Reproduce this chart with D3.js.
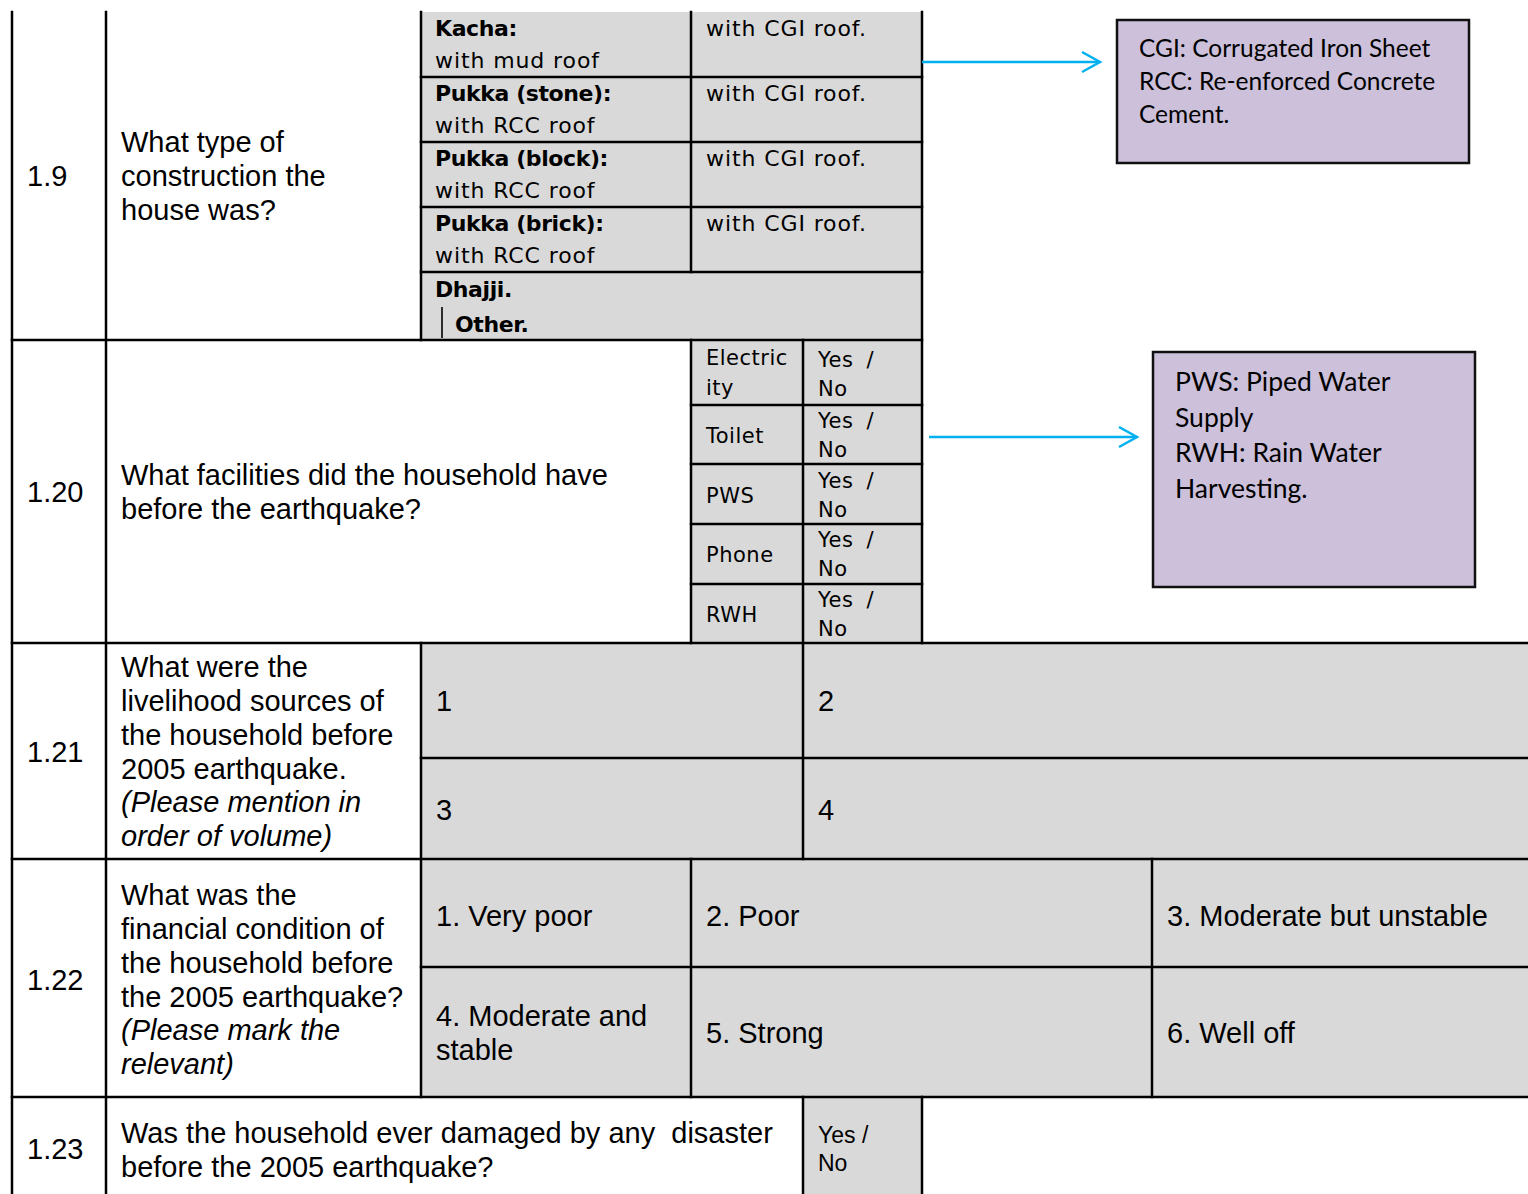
<!DOCTYPE html>
<html><head><meta charset="utf-8">
<script src="https://cdn.jsdelivr.net/npm/d3@7"></script>
<style>body{margin:0;background:#fff}svg{display:block}text{white-space:pre}</style>
</head><body>
<script>
// ---------- DATA ----------
const questionIds = ["1.9", "1.20", "1.21", "1.22", "1.23"];
const questionLines = [
  ["What type of", "construction the", "house was?"],
  ["What facilities did the household have", "before the earthquake?"],
  ["What were the", "livelihood sources of", "the household before", "2005 earthquake."],
  ["What was the", "financial condition of", "the household before", "the 2005 earthquake?"],
  ["Was the household ever damaged by any  disaster", "before the 2005 earthquake?"]
];
const questionNotes = [[], [], ["(Please mention in", "order of volume)"], ["(Please mark the", "relevant)"], []];
const constructionTypes = ["Kacha:", "Pukka (stone):", "Pukka (block):", "Pukka (brick):"];
const roofFirst = ["with mud roof", "with RCC roof", "with RCC roof", "with RCC roof"];
const roofSecond = ["with CGI roof.", "with CGI roof.", "with CGI roof.", "with CGI roof."];
const otherTypes = ["Dhajji.", "Other."];
const facilities = [["Electric", "ity"], ["Toilet"], ["PWS"], ["Phone"], ["RWH"]];
const yesNo = ["Yes /", "No"];
const livelihoodSlots = ["1", "2", "3", "4"];
const financialOptions = [["1. Very poor"], ["2. Poor"], ["3. Moderate but unstable"], ["4. Moderate and", "stable"], ["5. Strong"], ["6. Well off"]];
const abbreviationNotes = [
  ["CGI: Corrugated Iron Sheet", "RCC: Re-enforced Concrete", "Cement."],
  ["PWS: Piped Water", "Supply", "RWH: Rain Water", "Harvesting."]
];

// ---------- LAYOUT ----------
const W = 1528, H = 1194;
const GRAY = "#D9D9D9", PURPLE = "#CCC0DA", CYAN = "#00B0F0";
const ARIAL = "'Liberation Sans', Arial, sans-serif";
const GOTHIC = "'DejaVu Sans', sans-serif";
const CALIBRI = "Lato, 'Open Sans', sans-serif";

const X = d3.scaleOrdinal()
  .domain(["left", "num", "opt", "colA", "colB", "colC", "colD", "right"])
  .range([12, 106, 421, 691, 803, 922, 1152, 1528]);
const Y = d3.scaleOrdinal()
  .domain(["top", "r19", "r120", "r121", "r122", "bottom"])
  .range([12, 340, 643, 859, 1097, 1194]);
const y19 = d3.scaleLinear().domain([0, 4]).range([12, 272]);       // construction sub-rows
const y120 = d3.scaleOrdinal().domain(d3.range(6)).range([340, 405, 464, 524, 584, 643]); // facility sub-rows
const y121 = d3.scaleOrdinal().domain([0, 1, 2]).range([643, 758, 859]);
const y122 = d3.scaleOrdinal().domain([0, 1, 2]).range([859, 967, 1097]);

const svg = d3.select("body").append("svg").attr("width", W).attr("height", H);

// ---------- FILLS ----------
const fills = [
  [X("opt"), Y("top"), X("colC"), Y("r19")],
  [X("colA"), Y("r19"), X("colC"), Y("r120")],
  [X("opt"), Y("r120"), X("right"), Y("r122")],
  [X("colB"), Y("r122"), X("colC"), Y("bottom")]
];
svg.append("g").selectAll("rect").data(fills).join("rect")
  .attr("x", d => d[0]).attr("y", d => d[1])
  .attr("width", d => d[2] - d[0]).attr("height", d => d[3] - d[1])
  .attr("fill", GRAY);

// ---------- GRID LINES ----------
const segs = [];
const V = (x, y1, y2) => segs.push([x, y1, x, y2]);
const Hl = (y, x1, x2) => segs.push([x1, y, x2, y]);
V(X("left"), Y("top"), Y("bottom"));
V(X("num"), Y("top"), Y("bottom"));
V(X("opt"), Y("top"), Y("r19"));
V(X("opt"), Y("r120"), Y("r122"));
V(X("colC"), Y("top"), Y("r120"));
V(X("colC"), Y("r122"), Y("bottom"));
V(X("colA"), Y("top"), y19(4));
V(X("colA"), Y("r19"), Y("r120"));
V(X("colA"), Y("r121"), Y("r122"));
V(X("colB"), Y("r19"), Y("r121"));
V(X("colB"), Y("r122"), Y("bottom"));
V(X("colD"), Y("r121"), Y("r122"));
Hl(Y("r19"), X("left"), X("colC"));
Hl(Y("r120"), X("left"), X("right"));
Hl(Y("r121"), X("left"), X("right"));
Hl(Y("r122"), X("left"), X("right"));
[1, 2, 3, 4].forEach(i => Hl(y19(i), X("opt"), X("colC")));
[1, 2, 3, 4].forEach(i => Hl(y120(i), X("colA"), X("colC")));
Hl(y121(1), X("opt"), X("right"));
Hl(y122(1), X("opt"), X("right"));

svg.append("g").selectAll("line").data(segs).join("line")
  .attr("x1", d => d[0]).attr("y1", d => d[1]).attr("x2", d => d[2]).attr("y2", d => d[3])
  .attr("stroke", "#000").attr("stroke-width", 2.5).attr("stroke-linecap", "square");

// ---------- TEXT HELPERS ----------
function lines(g, arr, x, y0, step, opts) {
  const t = g.append("text").attr("x", x).attr("y", y0)
    .attr("font-family", opts.family).attr("font-size", opts.size)
    .attr("font-weight", opts.weight || "normal").attr("font-style", opts.style || "normal")
    .attr("letter-spacing", opts.ls || 0).attr("word-spacing", opts.ws || 0).attr("fill", "#000")
    .attr("xml:space", "preserve");
  arr.forEach((s, i) => t.append("tspan").attr("x", x).attr("y", y0 + i * step).text(s));
  return t;
}
const T = svg.append("g");
const A = {family: ARIAL, size: 29};
const AI = {family: ARIAL, size: 29, style: "italic"};

// question numbers
const numBase = [186, 502, 762, 990, 1159];
questionIds.forEach((q, i) => lines(T, [q], 27, numBase[i], 0, A));

// question texts
const qBase = [152, 485, 677, 905, 1143];
questionLines.forEach((ls, i) => {
  lines(T, ls, 121, qBase[i], 34, A);
  if (questionNotes[i].length) lines(T, questionNotes[i], 121, qBase[i] + ls.length * 34 - 1, 34, AI);
});

// 1.9 construction types
const G = {family: GOTHIC, size: 22, ls: 0.9};
const GB = {family: GOTHIC, size: 22, weight: "bold", ls: -0.4};
constructionTypes.forEach((c, i) => {
  const top = y19(i);
  lines(T, [c], 435, top + 24, 0, GB);
  lines(T, [roofFirst[i]], 435, top + 56, 0, G);
  lines(T, [roofSecond[i]], 706, top + 24, 0, G);
});
lines(T, [otherTypes[0]], 435, y19(4) + 25, 0, GB);
lines(T, [otherTypes[1]], 455, y19(4) + 60, 0, GB);
T.append("line").attr("x1", 442).attr("x2", 442).attr("y1", y19(4) + 35).attr("y2", y19(4) + 66)
  .attr("stroke", "#000").attr("stroke-width", 1.6);

// 1.20 facilities
const F = {family: GOTHIC, size: 21, ls: 0.5};
const FYN = {family: GOTHIC, size: 21, ls: 0.5, ws: 6};
const facBase = [365, 443, 503, 562, 622];
const ynBase = [367, 428, 488, 547, 607];
facilities.forEach((f, i) => {
  lines(T, f, 706, facBase[i], 30, F);
  lines(T, yesNo, 818, ynBase[i], 29, FYN);
});

// 1.21 livelihood
livelihoodSlots.forEach((s, i) => {
  const x = i % 2 === 0 ? 436 : 818;
  const y = i < 2 ? 711 : 820;
  lines(T, [s], x, y, 0, A);
});

// 1.22 financial
const finX = [436, 706, 1167];
financialOptions.forEach((o, i) => {
  const x = finX[i % 3];
  const y = i < 3 ? 926 : (o.length > 1 ? 1026 : 1043);
  lines(T, o, x, y, 34, A);
});

// 1.23 yes/no
lines(T, yesNo, 818, 1143, 28, {family: ARIAL, size: 23});

// ---------- NOTE BOXES & ARROWS ----------
const boxes = [
  {x: 1117, y: 20, w: 352, h: 143, tx: 1139, ty: 57, step: 33, size: 24.5, arrow: [922, 1100, 62]},
  {x: 1153, y: 352, w: 322, h: 235, tx: 1175, ty: 391, step: 35.5, size: 26.5, arrow: [929, 1137, 437]}
];
boxes.forEach((b, i) => {
  svg.append("rect").attr("x", b.x).attr("y", b.y).attr("width", b.w).attr("height", b.h)
    .attr("fill", PURPLE).attr("stroke", "#111").attr("stroke-width", 2.5);
  lines(svg, abbreviationNotes[i], b.tx, b.ty, b.step, {family: CALIBRI, size: b.size});
  const [x1, x2, y] = b.arrow;
  svg.append("line").attr("x1", x1).attr("x2", x2).attr("y1", y).attr("y2", y)
    .attr("stroke", CYAN).attr("stroke-width", 2.5);
  svg.append("polyline").attr("points", `${x2 - 18},${y - 10} ${x2},${y} ${x2 - 18},${y + 10}`)
    .attr("fill", "none").attr("stroke", CYAN).attr("stroke-width", 2.5);
});
</script>
</body></html>
